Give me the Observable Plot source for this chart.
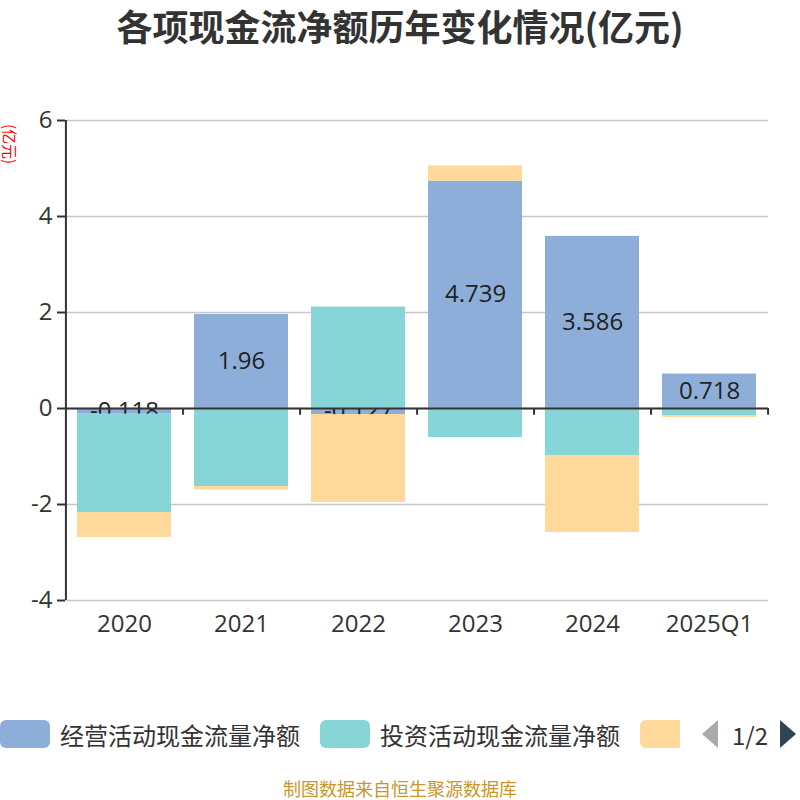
<!DOCTYPE html>
<html>
<head>
<meta charset="utf-8">
<script src="https://cdn.jsdelivr.net/npm/d3@7"></script>
<script src="https://cdn.jsdelivr.net/npm/@observablehq/plot@0.6"></script>
<style>
  html, body { margin: 0; padding: 0; background: #fff; }
  body { width: 800px; height: 800px; position: relative; overflow: hidden; font-family: "Noto Sans CJK SC", "Noto Sans", sans-serif; }
  #title { position: absolute; top: 0px; left: 0; width: 800px; text-align: center; font-size: 36px; line-height: 50px; font-weight: bold; color: #333; }
  #unit { position: absolute; z-index: 2; left: -15px; top: 135px; width: 50px; height: 18px; white-space: nowrap; text-align: center; transform: rotate(90deg); transform-origin: 50% 50%; font-size: 15px; line-height: 18px; color: #ff0000; }
  #chart { position: absolute; z-index: 1; top: 100px; left: 0; }
  #legend { position: absolute; top: 717px; left: 0; width: 800px; height: 34px; }
  .item { position: absolute; top: 0; height: 34px; display: flex; align-items: center; font-size: 24px; color: #333; }
  .sw { width: 50px; height: 28px; border-radius: 6px; margin-right: 10px; }
  #footer { position: absolute; top: 777px; left: 0; width: 800px; text-align: center; font-size: 18px; line-height: 22px; color: #c8962a; }
</style>
</head>
<body>
<div id="title">各项现金流净额历年变化情况(亿元)</div>
<div id="unit">(亿元)</div>
<div id="chart"></div>
<div id="legend"></div>
<div id="footer">制图数据来自恒生聚源数据库</div>
<script>
const years = ["2020", "2021", "2022", "2023", "2024", "2025Q1"];
const seriesNames = ["经营活动现金流量净额", "投资活动现金流量净额", "筹资活动现金流量净额"];
const seriesColors = ["#8eaeda", "#88d5d8", "#fed99b"];
const operating = [-0.118, 1.96, -0.127, 4.739, 3.586, 0.718];
const investing = [-2.05, -1.625, 2.11, -0.604, -0.98, -0.146];
const financing = [-0.515, -0.07, -1.83, 0.31, -1.6, -0.04];
const yTicks = [-4, -2, 0, 2, 4, 6];

const seriesValues = [operating, investing, financing];
const data = [];
seriesNames.forEach((s, i) => years.forEach((y, j) => data.push({year: y, series: s, value: seriesValues[i][j]})));
const opData = years.map((y, j) => ({year: y, value: operating[j]}));

const W = 800, H = 540, mL = 65, mR = 32, mT = 20, mB = 40;
const step = (W - mL - mR) / years.length;

const stackOpts = {x: "year", y: "value", fill: "series", order: null};

const chart = Plot.plot({
  width: W, height: H,
  marginLeft: mL, marginRight: mR, marginTop: mT, marginBottom: mB,
  style: {fontFamily: "'Open Sans', 'Noto Sans', sans-serif", background: "transparent"},
  x: {domain: years, paddingInner: 0.2, paddingOuter: 0.1, label: null},
  y: {domain: [-4, 6], label: null},
  color: {domain: seriesNames, range: seriesColors},
  opacity: {domain: [0, 1], range: [0, 1]},
  marks: [
    Plot.gridY(yTicks, {stroke: "#c8c8c8", strokeOpacity: 1, strokeWidth: 1.5}),
    Plot.barY(data, Plot.stackY(stackOpts)),
    Plot.text(opData, {x: "year", y: d => d.value / 2, text: d => String(d.value), fontSize: 24, fill: "#222"}),
    Plot.barY(data, Plot.stackY({...stackOpts, fillOpacity: d => d.series === seriesNames[0] ? 0 : 1})),
    Plot.ruleY([0], {stroke: "#333", strokeWidth: 2}),
    Plot.ruleX(years, {x: d => d, y1: 0, y2: -0.14, dx: step / 2, stroke: "#333", strokeWidth: 2}),
    Plot.ruleX([years[0]], {x: d => d, y1: -4, y2: 6, dx: -step / 2, stroke: "#333", strokeWidth: 2}),
    Plot.axisY({ticks: yTicks, tickSize: 8, tickPadding: 5, fontSize: 24, fill: "#333", stroke: "#333", strokeWidth: 2, tickFormat: d => String(d), label: null}),
    Plot.axisX({tickSize: 0, tickPadding: 14, fontSize: 24, fill: "#333", label: null})
  ]
});
document.getElementById("chart").appendChild(chart);

// legend
const legend = document.getElementById("legend");
const positions = [0, 320, 640];
seriesNames.forEach((s, i) => {
  const item = document.createElement("div");
  item.className = "item";
  item.style.left = positions[i] + "px";
  const sw = document.createElement("div");
  sw.className = "sw";
  sw.style.background = seriesColors[i];
  item.appendChild(sw);
  if (i < 2) {
    const t = document.createElement("span");
    t.textContent = s;
    item.appendChild(t);
  } else {
    sw.style.width = "40px";
    sw.style.borderRadius = "6px 0 0 6px";
  }
  legend.appendChild(item);
});
const pager = document.createElement("div");
pager.className = "item";
pager.style.left = "700px";
pager.innerHTML = '<svg width="20" height="30"><polygon points="18,1 18,29 2,15" fill="#aaa"/></svg>' +
  '<span style="margin:0 10px 0 12px;font-size:24px;color:#333">1/2</span>' +
  '<svg width="20" height="30"><polygon points="2,1 2,29 18,15" fill="#2f4554"/></svg>';
legend.appendChild(pager);
</script>
</body>
</html>
